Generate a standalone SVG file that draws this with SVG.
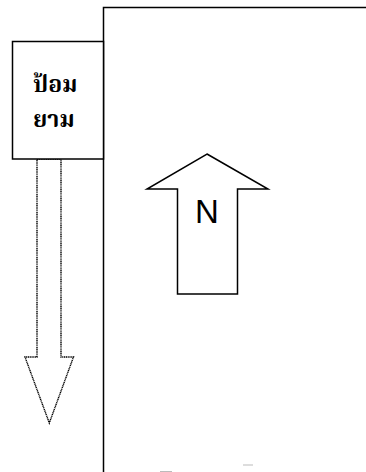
<svg xmlns="http://www.w3.org/2000/svg" width="366" height="472" viewBox="0 0 366 472">
<style>
.solid{fill:#fff;stroke:#000;stroke-width:1.5}
.dot{fill:#fff;stroke:#000;stroke-width:1.4;stroke-dasharray:1.2 0.6}
.th{font-family:"Noto Serif Thai","Noto Sans Thai","Noto Sans","DejaVu Sans",sans-serif;font-weight:bold;font-size:23px;fill:#000}
.lbl{font-family:"Liberation Sans",Arial,sans-serif;font-size:33px;fill:#000}
</style>
<rect width="366" height="472" fill="#fff"/>
<g id="building">
<path class="solid" d="M103.5,472 V7.5 H368"/>
</g>
<g id="north-arrow">
<polygon class="solid" points="207,154 268,189 237.5,189 237.5,294 177.5,294 177.5,189 147,189"/>
<text class="lbl" x="207" y="223" text-anchor="middle">N</text>
</g>
<g id="connectors">
<polygon class="dot" points="37,159 61,159 61,357 73.5,357 49.3,423 25,357 37,357"/>
</g>
<g id="guard-post">
<rect class="solid" x="12.5" y="41.5" width="91" height="117.5"/>
<text class="th" x="33" y="92">ป้อม</text>
<text class="th" x="33" y="127">ยาม</text>
</g>
<g id="marks" stroke="#bbb" stroke-width="1">
<line x1="243" y1="465" x2="253" y2="465"/>
<line x1="160" y1="471.5" x2="172" y2="471.5"/>
</g>
</svg>
